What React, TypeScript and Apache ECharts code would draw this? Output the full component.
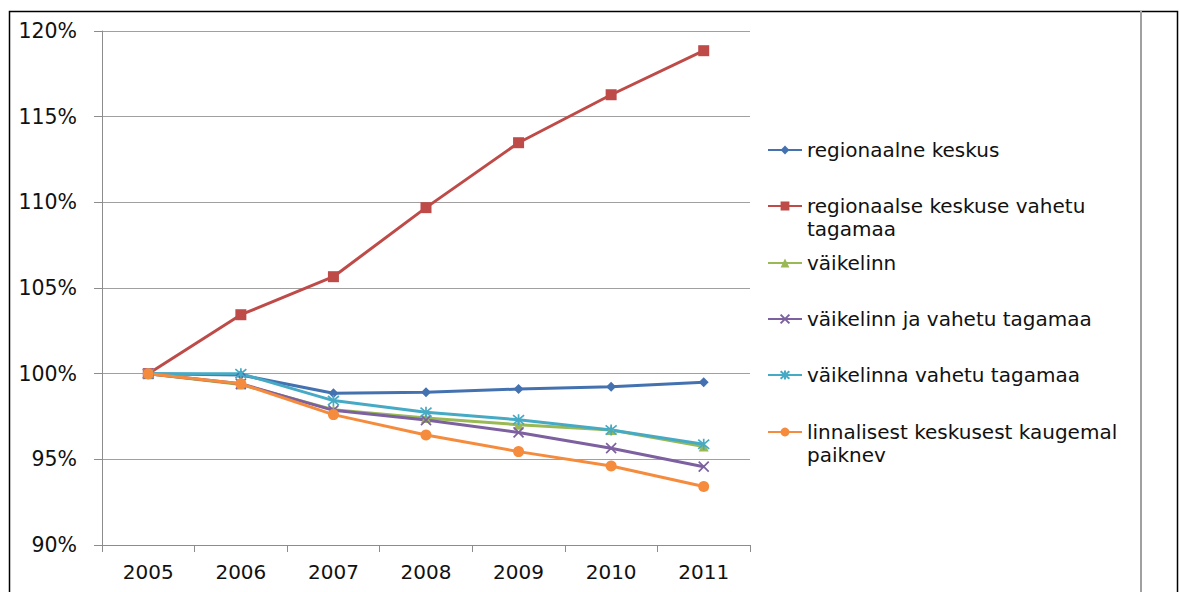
import React, { useEffect, useRef } from "react";
import * as echarts from "echarts";

const years = ["2005", "2006", "2007", "2008", "2009", "2010", "2011"];
const seriesNames = [
  "regionaalne keskus",
  "regionaalse keskuse vahetu tagamaa",
  "väikelinn",
  "väikelinn ja vahetu tagamaa",
  "väikelinna vahetu tagamaa",
  "linnalisest keskusest kaugemal paiknev",
];
const legendLabels = [
  "regionaalne keskus",
  "regionaalse keskuse vahetu\ntagamaa",
  "väikelinn",
  "väikelinn ja vahetu tagamaa",
  "väikelinna vahetu tagamaa",
  "linnalisest keskusest kaugemal\npaiknev",
];
const regionaalneKeskus = [100, 99.92, 98.86, 98.92, 99.1, 99.24, 99.5];
const regionaalseTagamaa = [100, 103.44, 105.66, 109.69, 113.48, 116.28, 118.85];
const vaikelinn = [100, 99.37, 97.9, 97.41, 97.02, 96.71, 95.75];
const vaikelinnJaTagamaa = [100, 99.41, 97.86, 97.29, 96.57, 95.65, 94.57];
const vaikelinnaTagamaa = [100, 100.0, 98.43, 97.75, 97.31, 96.71, 95.88];
const kaugemal = [100, 99.41, 97.61, 96.42, 95.45, 94.61, 93.41];
const yTicks = { min: 90, max: 120, interval: 5 };

const colors = ["#4472B0", "#BE4B48", "#98B954", "#7D60A0", "#46AAC5", "#F58B3D"];
const symbols = [
  "diamond",
  "rect",
  "triangle",
  "path://M0,0L10,10M10,0L0,10",
  "path://M0,0L10,10M10,0L0,10M5,-1L5,11",
  "circle",
];
const symbolSizes = [10, 11, 10, 10, 11, 11];
const legendCenters = [150, 206, 263, 319, 375, 432];

const FONT = "DejaVu Sans";

export default function App() {
  const ref = useRef<HTMLDivElement>(null);
  useEffect(() => {
    if (!ref.current) return;
    const chart = echarts.init(ref.current, null, { renderer: "svg" });
    const allData = [
      regionaalneKeskus,
      regionaalseTagamaa,
      vaikelinn,
      vaikelinnJaTagamaa,
      vaikelinnaTagamaa,
      kaugemal,
    ];
    const series = allData.map((d, i) => {
      const isPath = symbols[i].startsWith("path://");
      return {
        name: seriesNames[i],
        type: "line",
        data: d,
        symbol: symbols[i],
        symbolSize: symbolSizes[i],
        showAllSymbol: true,
        lineStyle: { color: colors[i], width: 3 },
        itemStyle: isPath
          ? { color: colors[i], borderColor: colors[i], borderWidth: 1.7 }
          : { color: colors[i] },
        emphasis: { disabled: true },
      };
    });
    const legends = seriesNames.map((n, i) => {
      const twoLine = legendLabels[i].includes("\n");
      return {
        show: true,
        orient: "vertical",
        left: 767,
        top: legendCenters[i] - (twoLine ? 34.5 : 11.5),
        padding: 0,
        itemWidth: 34,
        itemHeight: 11,
        selectedMode: false,
        data: [{ name: n }],
        formatter: () => (twoLine ? "\n" + legendLabels[i] : legendLabels[i]),
        textStyle: {
          fontFamily: FONT,
          fontSize: 20,
          color: "#111",
          lineHeight: 23,
        },
      };
    });
    chart.setOption({
      animation: false,
      color: colors,
      grid: { left: 102, top: 31, width: 648, height: 514 },
      xAxis: {
        type: "category",
        data: years,
        boundaryGap: true,
        axisLine: { lineStyle: { color: "#8c8c8c", width: 1 } },
        axisTick: { show: true, length: 7, lineStyle: { color: "#8c8c8c" } },
        axisLabel: {
          fontFamily: FONT,
          fontSize: 20,
          color: "#111",
          margin: 17,
        },
        splitLine: { show: false },
      },
      yAxis: {
        type: "value",
        min: yTicks.min,
        max: yTicks.max,
        interval: yTicks.interval,
        axisLine: { show: true, lineStyle: { color: "#8c8c8c", width: 1 } },
        axisTick: {
          show: true,
          length: 8,
          lineStyle: { color: "#8c8c8c" },
        },
        axisLabel: {
          fontFamily: FONT,
          fontSize: 20.5,
          color: "#111",
          margin: 25,
          formatter: "{value}%",
        },
        splitLine: { show: true, lineStyle: { color: "#a0a0a0", width: 1 } },
      },
      legend: legends,
      series,
      graphic: [
        {
          type: "rect",
          shape: { x: 9.5, y: 11.5, width: 1168, height: 700 },
          style: { fill: "none", stroke: "#000", lineWidth: 1.5 },
          silent: true,
        },
        {
          type: "line",
          shape: { x1: 1141, y1: 11, x2: 1141, y2: 600 },
          style: { stroke: "#a0a0a0", lineWidth: 2 },
          silent: true,
        },
      ],
    });
    return () => chart.dispose();
  }, []);
  return (
    <div
      ref={ref}
      style={{
        position: "absolute",
        left: 0,
        top: 0,
        width: 1179,
        height: 592,
        background: "#fff",
      }}
    />
  );
}
